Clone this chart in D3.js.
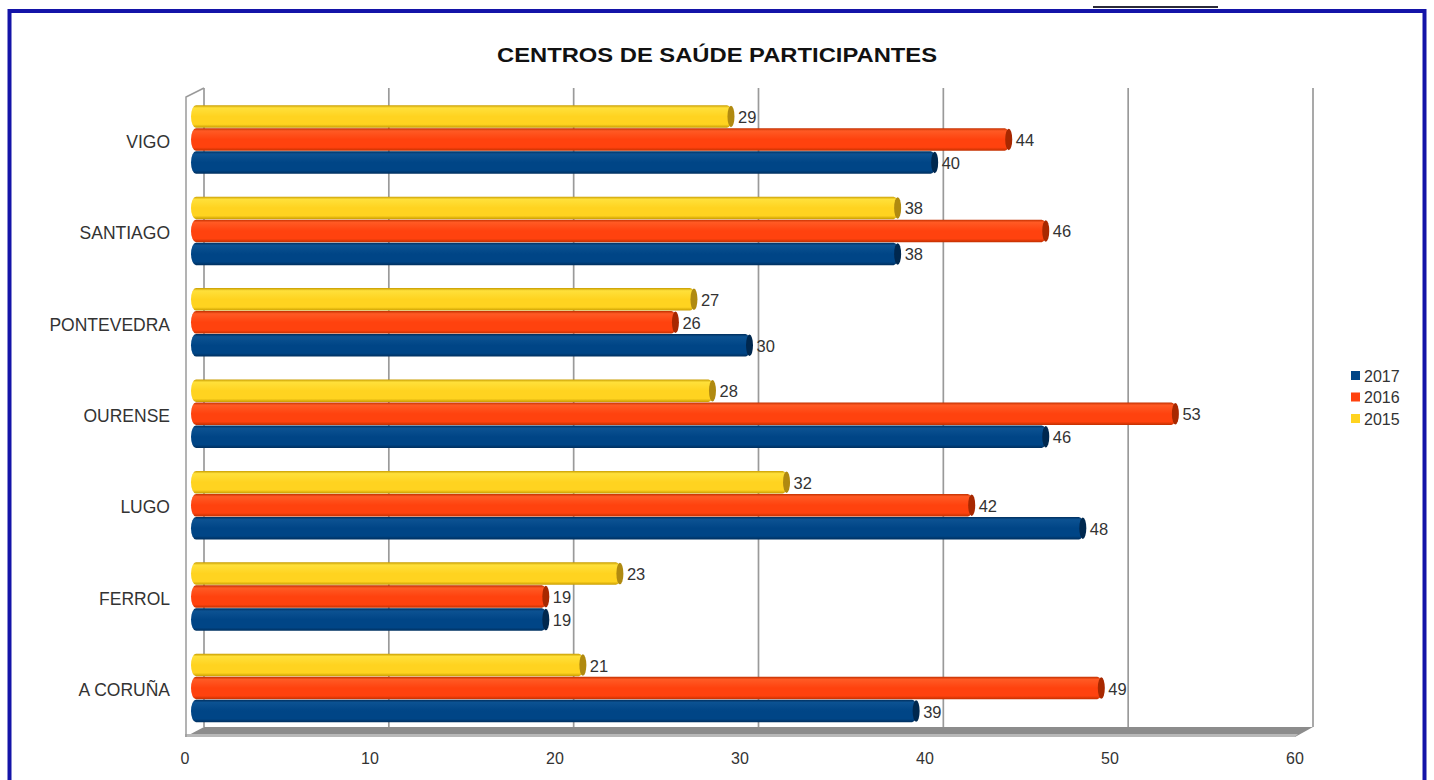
<!DOCTYPE html>
<html><head><meta charset="utf-8">
<script src="https://cdn.jsdelivr.net/npm/d3@7"></script>
<style>
html,body{margin:0;padding:0;background:#fff;}
svg{display:block;font-family:"Liberation Sans",Arial,sans-serif;}
</style></head>
<body>
<svg id="c" width="1434" height="780"></svg>
<script>
const categories = ["VIGO","SANTIAGO","PONTEVEDRA","OURENSE","LUGO","FERROL","A CORUÑA"];
const seriesNames = ["2015","2016","2017"];
const values2015 = [29,38,27,28,32,23,21];
const values2016 = [44,46,26,53,42,19,49];
const values2017 = [40,38,30,46,48,19,39];
const xTicks = [0,10,20,30,40,50,60];
const legendOrder = ["2017","2016","2015"];
const title = "CENTROS DE SAÚDE PARTICIPANTES";

const seriesValues = {"2015":values2015,"2016":values2016,"2017":values2017};
const colors = {"2015":"#ffd320","2016":"#ff420e","2017":"#004586"};
const light = {"2015":"#ffe03a","2016":"#ff5a24","2017":"#0c5292"};
const dark = {"2015":"#c89c00","2016":"#c23000","2017":"#002f5e"};
const capc = {"2015":"#b08a10","2016":"#a82800","2017":"#00284f"};

const svg = d3.select("#c");
const defs = svg.append("defs");
seriesNames.forEach(s=>{
  const g = defs.append("linearGradient").attr("id","g"+s).attr("x1",0).attr("y1",0).attr("x2",0).attr("y2",1);
  g.append("stop").attr("offset","0%").attr("stop-color",dark[s]);
  g.append("stop").attr("offset","12%").attr("stop-color",light[s]);
  g.append("stop").attr("offset","50%").attr("stop-color",colors[s]);
  g.append("stop").attr("offset","85%").attr("stop-color",colors[s]);
  g.append("stop").attr("offset","100%").attr("stop-color",dark[s]);
});

// frame
svg.append("line").attr("x1",1093).attr("x2",1218).attr("y1",7).attr("y2",7).attr("stroke","#2a2a3a").attr("stroke-width",2);
svg.append("rect").attr("x",9.5).attr("y",11).attr("width",1415).attr("height",790)
  .attr("fill","none").attr("stroke","#1414a8").attr("stroke-width",4);

svg.append("text").attr("x",717).attr("y",62).attr("text-anchor","middle")
  .attr("font-size",20).attr("font-weight","bold").attr("fill","#111")
  .attr("textLength",440).attr("lengthAdjust","spacingAndGlyphs").text(title);

const xBack = d3.scaleLinear().domain([0,60]).range([204,1313]);
const xFront = d3.scaleLinear().domain([0,60]).range([185,1295]);
const xBar = d3.scaleLinear().domain([0,60]).range([195,1306]);
const yTop = 88, yFloor = 727, yFront = 737;

const y0 = d3.scaleBand().domain(categories).range([94,734]).paddingInner(0.245).paddingOuter(0.1225);
const y1 = d3.scaleBand().domain(seriesNames).range([0,y0.bandwidth()]);

// floor
svg.append("path").attr("d",`M${xBack(0)},${yFloor}L${xBack(60)},${yFloor}L${xFront(60)},${yFront}L${xFront(0)},${yFront}Z`)
  .attr("fill","#8c8c8c");
svg.append("path").attr("d",`M${xFront(0)},${yFront-3}L${xFront(60)+3},${yFront-3}L${xFront(60)},${yFront}L${xFront(0)},${yFront}Z`)
  .attr("fill","#b8b8b8");
// left wall
svg.append("path").attr("d",`M${xFront(0)+1},${yFront}L${xFront(0)+1},${yTop+9}L${xBack(0)},${yTop}`)
  .attr("fill","none").attr("stroke","#9a9a9a").attr("stroke-width",1.5);
// gridlines
svg.append("g").selectAll("line").data(xTicks).join("line")
  .attr("x1",d=>xBack(d)).attr("x2",d=>xBack(d)).attr("y1",yTop).attr("y2",yFloor)
  .attr("stroke","#9a9a9a").attr("stroke-width",1.7);

// x tick labels
svg.append("g").selectAll("text").data(xTicks).join("text")
  .attr("x",d=>xFront(d)).attr("y",764).attr("text-anchor","middle")
  .attr("font-size",16).attr("fill","#333").text(d=>d);

// category labels
svg.append("g").selectAll("text").data(categories).join("text")
  .attr("x",170).attr("y",d=>y0(d)+y0.bandwidth()/2+8).attr("text-anchor","end")
  .attr("font-size",17.5).attr("fill","#333").text(d=>d);

// bars
const bars = [];
categories.forEach((c,i)=>seriesNames.forEach(s=>bars.push({c,s,v:seriesValues[s][i]})));
const bh = y1.bandwidth()-0.5;
const bg = svg.append("g").selectAll("g").data(bars).join("g")
  .attr("transform",d=>`translate(0,${y0(d.c)+y1(d.s)})`);
bg.append("rect").attr("x",xBar(0)-4).attr("y",0).attr("height",bh)
  .attr("width",d=>xBar(d.v)-xBar(0)+4).attr("rx",5).attr("ry",bh/2)
  .attr("fill",d=>`url(#g${d.s})`);
bg.append("ellipse").attr("cx",d=>xBar(d.v)-1).attr("cy",bh/2).attr("rx",3.5).attr("ry",bh/2-0.5)
  .attr("fill",d=>capc[d.s]);
bg.append("text").attr("x",d=>xBar(d.v)+6).attr("y",bh/2+6.5)
  .attr("font-size",16.5).attr("fill","#333").text(d=>d.v);

// legend
const lg = svg.append("g").selectAll("g").data(legendOrder).join("g")
  .attr("transform",(d,i)=>`translate(1351,${370+i*21.5})`);
lg.append("rect").attr("width",9).attr("height",9).attr("y",1).attr("fill",d=>colors[d]);
lg.append("text").attr("x",13).attr("y",11.5).attr("font-size",16).attr("fill","#333").text(d=>d);
</script>
</body></html>
